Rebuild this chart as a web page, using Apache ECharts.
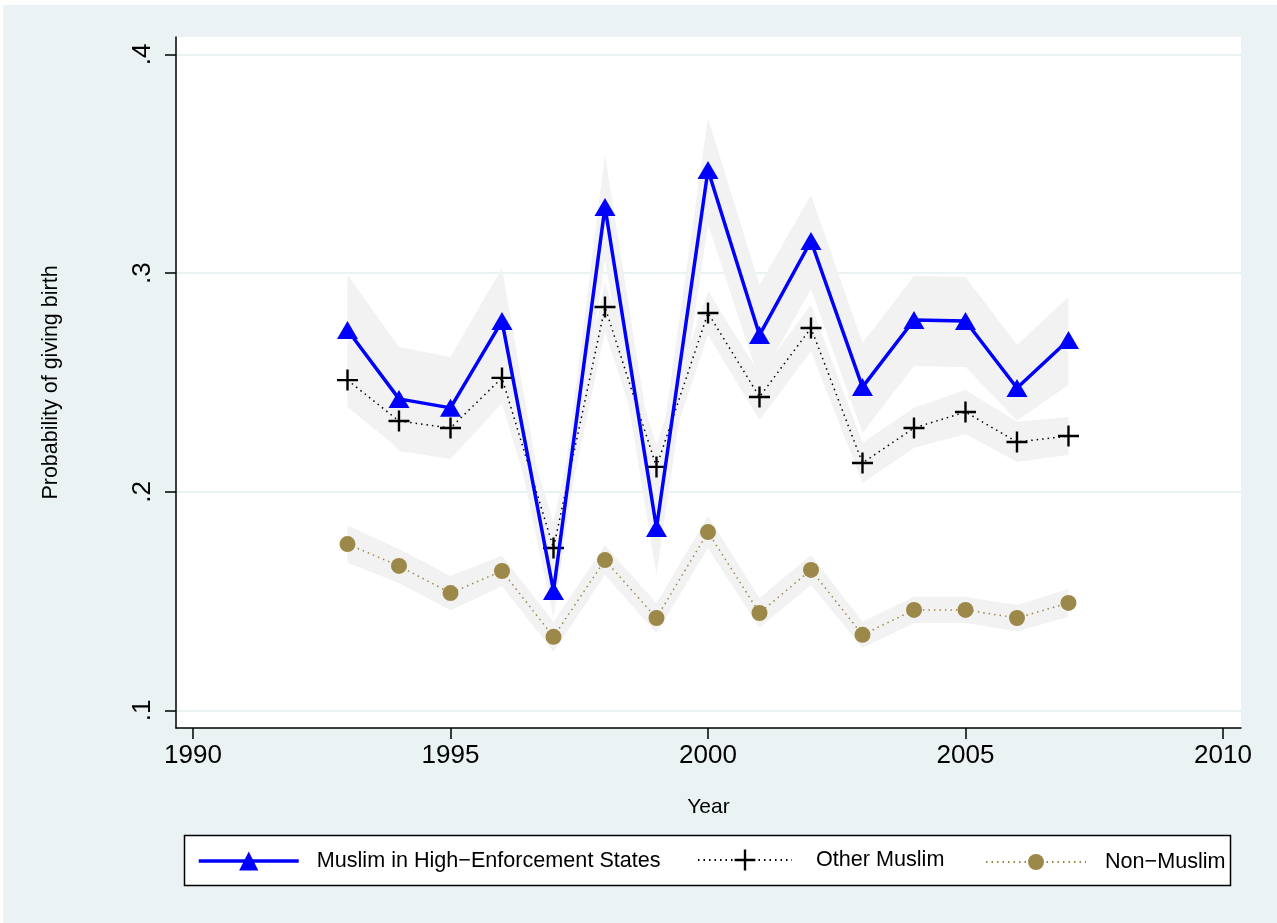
<!DOCTYPE html>
<html>
<head>
<meta charset="utf-8">
<script src="https://cdn.jsdelivr.net/npm/echarts@6/dist/echarts.min.js"></script>
<style>
  html, body { margin: 0; padding: 0; background: #ffffff; }
  #chart { width: 1277px; height: 923px; }
</style>
</head>
<body>
<div id="chart"></div>
<script>
// Survey years
const years = [1993, 1994, 1995, 1996, 1997, 1998, 1999, 2000, 2001, 2002, 2003, 2004, 2005, 2006, 2007];

// Muslim in high-enforcement states: point estimate and confidence bounds
const highEnf   = [0.2740, 0.2425, 0.2384, 0.2781, 0.1547, 0.3303, 0.1835, 0.3472, 0.2717, 0.3147, 0.2479, 0.2786, 0.2781, 0.2475, 0.2694];
const highEnfHi = [0.2992, 0.2662, 0.2617, 0.3024, 0.1666, 0.3540, 0.2050, 0.3710, 0.2946, 0.3357, 0.2681, 0.2987, 0.2983, 0.2672, 0.2891];
const highEnfLo = [0.2489, 0.2187, 0.2150, 0.2539, 0.1423, 0.3064, 0.1620, 0.3225, 0.2507, 0.2928, 0.2269, 0.2575, 0.2571, 0.2326, 0.2489];

// Other Muslim
const otherMus   = [0.2511, 0.2324, 0.2292, 0.2521, 0.1743, 0.2845, 0.2114, 0.2818, 0.2434, 0.2749, 0.2132, 0.2292, 0.2365, 0.2228, 0.2255];
const otherMusHi = [0.2634, 0.2452, 0.2434, 0.2635, 0.1860, 0.2959, 0.2215, 0.2919, 0.2539, 0.2854, 0.2224, 0.2385, 0.2466, 0.2320, 0.2342];
const otherMusLo = [0.2388, 0.2196, 0.2150, 0.2405, 0.1620, 0.2731, 0.2013, 0.2717, 0.2328, 0.2644, 0.2040, 0.2200, 0.2265, 0.2136, 0.2169];

// Non-Muslim
const nonMus   = [0.1761, 0.1661, 0.1537, 0.1638, 0.1337, 0.1688, 0.1423, 0.1816, 0.1446, 0.1643, 0.1346, 0.1460, 0.1460, 0.1423, 0.1492];
const nonMusHi = [0.1846, 0.1739, 0.1615, 0.1708, 0.1405, 0.1756, 0.1491, 0.1889, 0.1514, 0.1711, 0.1406, 0.1520, 0.1520, 0.1483, 0.1556];
const nonMusLo = [0.1676, 0.1583, 0.1459, 0.1568, 0.1269, 0.1620, 0.1355, 0.1743, 0.1378, 0.1575, 0.1286, 0.1400, 0.1400, 0.1363, 0.1428];

// Axis ticks
const xTicks = [1990, 1995, 2000, 2005, 2010];
const yTicks = [0.1, 0.2, 0.3, 0.4];

// Series labels
const nameHigh  = 'Muslim in High\u2212Enforcement States';
const nameOther = 'Other Muslim';
const nameNon   = 'Non\u2212Muslim';

const BG = '#eaf2f3';
const BAND = '#f2f2f2';
const BLUE = '#0000ff';
const BROWN = '#9c8848';
const FONT = 'Liberation Sans, Arial, Helvetica, sans-serif';

// plus-sign marker built from two bars
const PLUS = 'path://M0,9.3H21V11.7H0Z M9.3,0H11.7V21H9.3Z';

const pairs = (vals) => years.map((y, i) => [y, vals[i]]);

// confidence band: one filled polygon (upper edge forward, lower edge back)
function band(lo, hi) {
  return {
    type: 'custom', silent: true, z: 1,
    data: years.map((y, i) => [y, lo[i], hi[i]]),
    encode: { x: 0, y: [1, 2] },
    renderItem: (params, api) => {
      if (params.dataIndex !== 0) return null;
      const pts = [];
      for (let i = 0; i < years.length; i++) pts.push(api.coord([years[i], hi[i]]));
      for (let i = years.length - 1; i >= 0; i--) pts.push(api.coord([years[i], lo[i]]));
      return { type: 'polygon', shape: { points: pts }, style: { fill: BAND, stroke: null } };
    }
  };
}

const chart = echarts.init(document.getElementById('chart'), null, { renderer: 'canvas' });

const legendCommon = {
  orient: 'horizontal', padding: 0, itemGap: 0, selectedMode: false,
  textStyle: { fontFamily: FONT, fontSize: 21.6, color: '#000' }
};

chart.setOption({
  animation: false,
  backgroundColor: BG,
  graphic: [
    { type: 'rect', shape: { x: 0, y: 0, width: 1277, height: 5 }, style: { fill: '#fff' }, silent: true },
    { type: 'rect', shape: { x: 0, y: 0, width: 3, height: 923 }, style: { fill: '#fff' }, silent: true },
    { type: 'rect', shape: { x: 184.5, y: 835.5, width: 1046, height: 50 },
      style: { fill: '#fff', stroke: '#000', lineWidth: 1.5 }, silent: true, z: 0 }
  ],
  grid: {
    left: 176, top: 37, width: 1065, height: 691,
    show: true, backgroundColor: '#ffffff', borderWidth: 0, containLabel: false
  },
  xAxis: {
    type: 'value', min: 1989.67, max: 2010.35,
    name: 'Year', nameLocation: 'middle', nameGap: 69,
    nameTextStyle: { fontFamily: FONT, fontSize: 21, color: '#000' },
    axisLine: { show: true, onZero: false, lineStyle: { color: '#000', width: 1.5 } },
    axisTick: { show: true, length: 11, lineStyle: { color: '#000', width: 1.5 }, customValues: xTicks },
    axisLabel: { fontFamily: FONT, fontSize: 26, color: '#000', margin: 15, customValues: xTicks,
                 formatter: (v) => String(v) },
    splitLine: { show: false }
  },
  yAxis: {
    type: 'value', min: 0.092, max: 0.408,
    name: 'Probability of giving birth', nameLocation: 'middle', nameGap: 114,
    nameTextStyle: { fontFamily: FONT, fontSize: 21.5, color: '#000' },
    axisLine: { show: true, onZero: false, lineStyle: { color: '#000', width: 1.5 } },
    axisTick: { show: true, length: 11, lineStyle: { color: '#000', width: 1.5 }, customValues: yTicks },
    axisLabel: { fontFamily: FONT, fontSize: 26, color: '#000', rotate: 90, margin: 20, customValues: yTicks,
                 formatter: (v) => v.toFixed(1).replace(/^0/, '') },
    splitLine: { show: true, lineStyle: { color: BG, width: 2 } }
  },
  legend: [
    Object.assign({}, legendCommon, {
      data: [{ name: nameHigh, lineStyle: { color: BLUE, width: 3.5 } }],
      left: 197, top: 850, itemWidth: 100, itemHeight: 24,
      textStyle: Object.assign({}, legendCommon.textStyle, { padding: [0, 0, 0, 13] })
    }),
    Object.assign({}, legendCommon, {
      data: [nameOther], left: 697, top: 849, itemWidth: 94, itemHeight: 26,
      textStyle: Object.assign({}, legendCommon.textStyle, { padding: [0, 0, 0, 19] })
    }),
    Object.assign({}, legendCommon, {
      data: [nameNon], left: 985, top: 851, itemWidth: 100, itemHeight: 20,
      textStyle: Object.assign({}, legendCommon.textStyle, { padding: [0, 0, 0, 14] })
    })
  ],
  series: [
    band(highEnfLo, highEnfHi),
    band(otherMusLo, otherMusHi),
    band(nonMusLo, nonMusHi),
    {
      name: nameHigh, type: 'line', data: pairs(highEnf), z: 5,
      symbol: 'triangle', symbolSize: [21, 18], showSymbol: true,
      lineStyle: { color: BLUE, width: 3.5 },
      itemStyle: { color: BLUE, borderWidth: 0 }
    },
    {
      name: nameOther, type: 'line', data: pairs(otherMus), z: 4,
      symbol: PLUS, symbolSize: 21, showSymbol: true,
      lineStyle: { color: '#000', width: 1.5, type: [1.5, 4] },
      itemStyle: { color: '#000', borderWidth: 0 }
    },
    {
      name: nameNon, type: 'line', data: pairs(nonMus), z: 4,
      symbol: 'circle', symbolSize: 16, showSymbol: true,
      lineStyle: { color: BROWN, width: 1.5, type: [1.5, 4] },
      itemStyle: { color: BROWN, borderWidth: 0 }
    }
  ]
});
</script>
</body>
</html>
